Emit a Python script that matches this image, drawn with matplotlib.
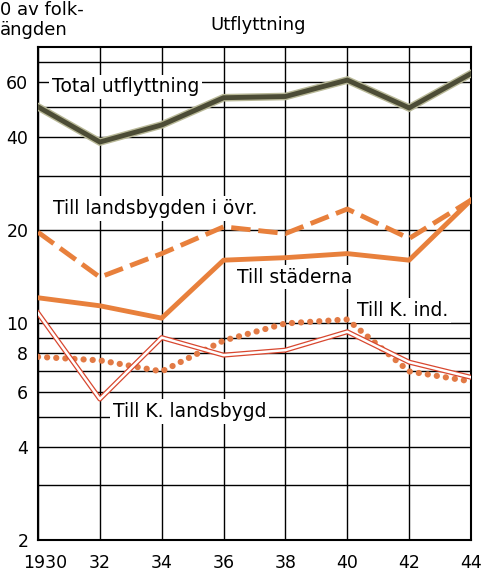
import numpy as np
import matplotlib.pyplot as plt
from matplotlib.ticker import FixedLocator, NullLocator, NullFormatter
from matplotlib.transforms import ScaledTranslation

years = [1930, 1932, 1934, 1936, 1938, 1940, 1942, 1944]
total = [50, 38.5, 43.7, 53.5, 54, 61, 49.6, 64]
landsbygden_ovr = [19.7, 14.1, 16.8, 20.5, 19.5, 23.4, 18.8, 25]
staderna = [12.1, 11.4, 10.4, 16.0, 16.3, 16.8, 16.0, 25]
k_ind = [7.8, 7.6, 7.0, 8.8, 10.0, 10.3, 7.0, 6.5]
k_landsbygd = [10.8, 5.7, 9.0, 7.9, 8.2, 9.4, 7.5, 6.7]

year_labels = ["1930", "32", "34", "36", "38", "40", "42", "44"]
y_ticks = [2, 4, 6, 8, 10, 20, 40, 60]
y_grid = [2, 3, 4, 5, 6, 7, 8, 9, 10, 20, 30, 40, 50, 60, 70]

orange = "#e8803c"
red = "#d8472f"

fig = plt.figure(figsize=(4.86, 5.73), dpi=100)
ax = fig.add_axes([38 / 486, 1 - 540 / 573, (471 - 38) / 486, (540 - 47) / 573])
ax.set_yscale("log")
ax.set_xlim(1930, 1944)
ax.set_ylim(2, 78)

ax.yaxis.set_major_locator(FixedLocator(y_ticks))
ax.yaxis.set_minor_locator(NullLocator())
ax.yaxis.set_minor_formatter(NullFormatter())
ax.set_yticklabels([str(v) for v in y_ticks])
ax.set_xticks(years)
ax.set_xticklabels(year_labels)
ax.tick_params(labelsize=12.5, length=0)
ax.tick_params(axis="x", pad=10)
ax.tick_params(axis="y", pad=7)
# first year label sits right of the axis corner, as in the original
lbl = ax.get_xticklabels()[0]
lbl.set_transform(lbl.get_transform() + ScaledTranslation(0.07, 0, fig.dpi_scale_trans))

for v in y_grid:
    ax.axhline(v, color="black", lw=1, zorder=1)
for x in years:
    ax.axvline(x, color="black", lw=1, zorder=1)
for s in ax.spines.values():
    s.set_linewidth(1.5)

ax.plot(years, total, color="#b9b998", lw=5.5, zorder=3, solid_joinstyle="miter")
ax.plot(years, total, color="#4c4c36", lw=3.5, zorder=3, solid_joinstyle="miter")

ax.plot(years, landsbygden_ovr, color=orange, lw=3.5, dashes=[4, 1.6], zorder=3)
ax.plot(years, staderna, color=orange, lw=3.5, zorder=3)

ax.plot(years, k_ind, color="#e27a45", lw=4.5, linestyle=(0, (0.01, 1.45)),
        dash_capstyle="round", zorder=3)

ax.plot(years, k_landsbygd, color=red, lw=3.6, zorder=3)
ax.plot(years, k_landsbygd, color="white", lw=1.8, zorder=3)

box = dict(facecolor="white", edgecolor="none", pad=2)
fs = 13.5
ax.text(1930.45, 58, "Total utflyttning", fontsize=fs, va="center", bbox=box, zorder=2)
ax.text(1930.5, 23.5, "Till landsbygden i övr.", fontsize=fs, va="center", bbox=box, zorder=2)
ax.text(1936.43, 14.1, "Till städerna", fontsize=fs, va="center", bbox=box, zorder=2)
ax.text(1940.3, 11.0, "Till K. ind.", fontsize=fs, va="center", bbox=box, zorder=2)
ax.text(1932.42, 5.2, "Till K. landsbygd", fontsize=fs, va="center", bbox=box, zorder=2)

fig.text(0, 1 - 1 / 573, "0 av folk-\nängden", fontsize=13, va="top", ha="left",
         linespacing=1.15)
fig.text(258 / 486, 1 - 25 / 573, "Utflyttning", fontsize=13, va="center", ha="center")

fig.savefig("out.png", dpi=100)
